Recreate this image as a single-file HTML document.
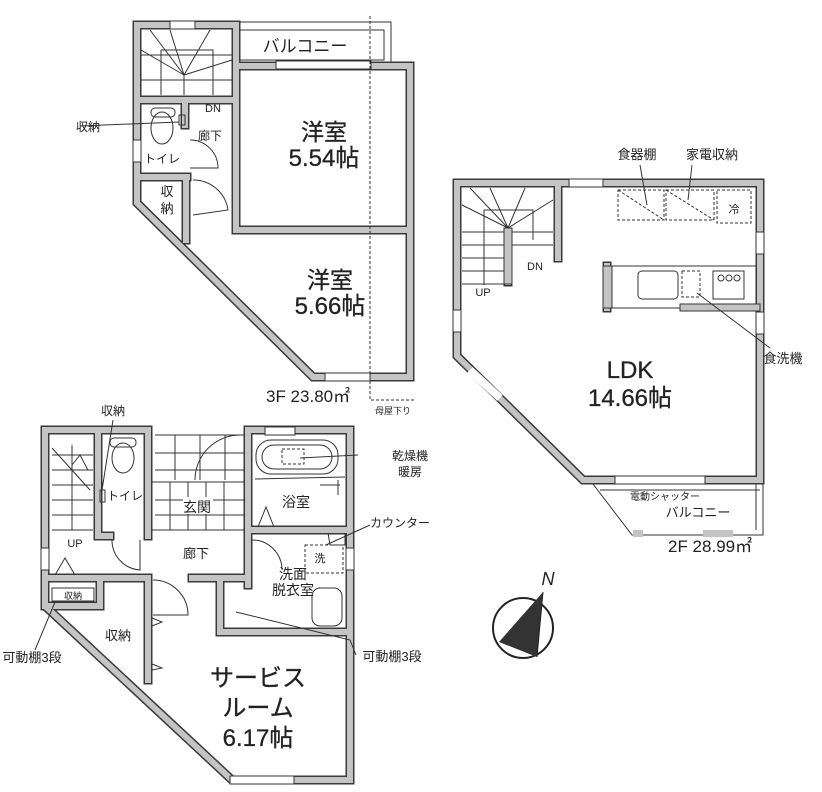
<!DOCTYPE html>
<html><head><meta charset="utf-8"><style>
html,body{margin:0;padding:0;background:#fff;}
svg{display:block;}
text{font-family:"Liberation Sans","Noto Sans CJK JP",sans-serif;fill:#222;}
.wo{fill:none;stroke:#3a3a3a;stroke-width:9;stroke-linecap:square;stroke-linejoin:miter;}
.wi{fill:none;stroke:#c4c4c4;stroke-width:6;stroke-linecap:square;stroke-linejoin:miter;}
.t{fill:none;stroke:#333;stroke-width:1;}
.d{fill:none;stroke:#333;stroke-width:1;stroke-dasharray:3 2;}
.win{fill:#fff;stroke:#333;stroke-width:1;}
.big{stroke:#222;stroke-width:0.3;}
</style></head><body>
<svg width="822" height="792" viewBox="0 0 822 792" xmlns="http://www.w3.org/2000/svg">
<defs>
<g id="w3">
<path d="M236,66 L410,66 L410,377 L313,377 L137,203 L137,25 L236,25 L236,228"/>
<path d="M137,100 L236,100"/><path d="M137,177 L187,177"/><path d="M185,100 L185,125"/>
<path d="M186,177 L186,240"/><path d="M236,230 L410,230"/>
</g>
<g id="w2">
<path d="M457,183 L760,183 L760,480 L583,480 L457,356 Z"/>
<path d="M558,183 L558,258"/><path d="M508,270 L508,282"/>
<path d="M607,266 L607,308"/>
</g>
<g id="w1">
<path d="M45,430 L148,430"/><path d="M248,430 L350,430 L350,780 L232,780 L45,606 L45,430"/>
<path d="M98,430 L98,536"/><path d="M148,430 L148,536"/><path d="M98,536 L110,536"/>
<path d="M248,430 L248,585"/><path d="M248,530 L350,530"/>
<path d="M45,578 L148,578 L148,680"/><path d="M192,578 L248,578"/>
<path d="M45,606 L100,606 L100,578"/>
<path d="M220,580 L220,632 L350,632"/>
</g>
</defs>
<use href="#w3" class="wo"/><use href="#w3" class="wi"/>
<use href="#w2" class="wo"/><use href="#w2" class="wi"/>
<use href="#w1" class="wo"/><use href="#w1" class="wi"/>
<rect x="611" y="266" width="145" height="42" fill="#fff" stroke="#333"/>
<rect x="603" y="266" width="9" height="42" fill="#c4c4c4" stroke="#333"/>
<rect x="680" y="304" width="80" height="7" fill="#c4c4c4" stroke="#333"/>
<rect x="276" y="61" width="95" height="8" class="win"/>
<rect x="325" y="373" width="45" height="8" class="win"/>
<rect x="170" y="21" width="25" height="8" class="win"/>
<rect x="133" y="140" width="8" height="22" class="win"/>
<rect x="569" y="179" width="34" height="8" class="win"/>
<rect x="756" y="232" width="8" height="22" class="win"/>
<rect x="756" y="312" width="8" height="22" class="win"/>
<rect x="453" y="310" width="8" height="22" class="win"/>
<rect x="615" y="476" width="90" height="8" class="win"/>
<rect x="41" y="548" width="8" height="22" class="win"/>
<rect x="346" y="548" width="8" height="22" class="win"/>
<rect x="265" y="427" width="30" height="8" class="win"/>
<rect x="230" y="776" width="64" height="8" class="win"/>
<line x1="233" y1="704" x2="260" y2="730" stroke="#fff" stroke-width="8"/>
<line x1="470" y1="370" x2="500" y2="398" stroke="#fff" stroke-width="8"/>
<path class="t" d="M240,22 L391,22 L391,62 M240,60 L384,60 L384,30 L240,30"/>
<path class="d" d="M370,16 L370,400 L415,400"/>
<text x="305" y="52" font-size="17" text-anchor="middle">バルコニー</text>
<path class="t" d="M141,55 L232,55 M141,80 L232,80 M161,50 L213,50 L213,95 M161,50 L161,95 M184,75 L184,95 M184,75 L150,30 M184,75 L170,30 M184,75 L210,30 M184,75 L232,60 M184,75 L141,50"/>
<text x="213" y="112" font-size="11" text-anchor="middle">DN</text>
<text x="210" y="140" font-size="12" text-anchor="middle">廊下</text>
<ellipse cx="162" cy="128" rx="11" ry="16" class="t"/><rect x="151" y="108" width="24" height="9" rx="4" class="t"/>
<rect x="179" y="115" width="6" height="10" class="t"/>
<text x="162" y="163" font-size="12" text-anchor="middle">トイレ</text>
<path class="t" d="M80,126 L179,122"/><text x="100" y="131" font-size="12" text-anchor="end">収納</text>
<text x="167" y="196" font-size="13" text-anchor="middle">収</text><text x="167" y="213" font-size="13" text-anchor="middle">納</text>
<path class="t" d="M190,140 A28,28 0 0 1 218,168 L190,168 M193,180 A35,35 0 0 1 228,210 L193,215"/>
<text x="324" y="140" font-size="23" text-anchor="middle" class="big">洋室</text>
<text x="324" y="166" font-size="24" text-anchor="middle" class="big">5.54帖</text>
<text x="330" y="288" font-size="23" text-anchor="middle" class="big">洋室</text>
<text x="330" y="314" font-size="24" text-anchor="middle" class="big">5.66帖</text>
<text x="266" y="402" font-size="17">3F 23.80㎡</text>
<text x="375" y="414" font-size="9">母屋下り</text>
<path class="t" d="M462,232 L553,232 M462,245 L553,245 M462,258 L508,258 M462,271 L508,271 M462,284 L508,284 M484,210 L484,285 M484,210 L533,210 L533,240 M508,228 L470,188 M508,228 L490,188 M508,228 L525,188 M508,228 L553,200 M508,228 L462,205"/>
<rect x="504" y="228" width="8" height="56" fill="#c4c4c4" stroke="#333"/>
<text x="535" y="270" font-size="11" text-anchor="middle">DN</text>
<text x="483" y="296" font-size="11" text-anchor="middle">UP</text>
<rect x="618" y="190" width="46" height="30" class="d"/><rect x="666" y="190" width="48" height="30" class="d"/><rect x="717" y="190" width="34" height="33" class="d"/>
<path class="d" d="M618,190 L664,220 M666,190 L714,220"/>
<text x="734" y="213" font-size="11" text-anchor="middle">冷</text>
<text x="637" y="159" font-size="13" text-anchor="middle">食器棚</text><text x="712" y="159" font-size="13" text-anchor="middle">家電収納</text>
<path class="t" d="M640,165 L647,205 M692,165 L688,200"/>
<rect x="638" y="271" width="40" height="28" rx="4" class="t"/>
<rect x="682" y="271" width="18" height="26" class="d"/>
<rect x="713" y="271" width="31" height="28" class="t"/>
<circle cx="721" cy="278" r="3" class="t"/><circle cx="729" cy="278" r="3" class="t"/><circle cx="737" cy="278" r="3" class="t"/>
<path class="t" d="M697,293 L770,348"/>
<text x="783" y="363" font-size="13" text-anchor="middle">食洗機</text>
<text x="630" y="378" font-size="24" text-anchor="middle" class="big">LDK</text>
<text x="630" y="406" font-size="24" text-anchor="middle" class="big">14.66帖</text>
<path class="t" d="M593,484 L632,535 L763,535 L763,484 M756,484 L756,530 M600,490 L760,490"/>
<rect x="633" y="530" width="10" height="7" fill="#c4c4c4"/><rect x="703" y="530" width="30" height="7" fill="#c4c4c4"/>
<text x="665" y="500" font-size="10" text-anchor="middle">電動シャッター</text>
<text x="698" y="517" font-size="13" text-anchor="middle">バルコニー</text>
<text x="668" y="552" font-size="17">2F 28.99㎡</text>
<circle cx="523" cy="628" r="30" fill="none" stroke="#222" stroke-width="2"/>
<path d="M543,592 L499,642 L537,657 Z" fill="#333"/><path d="M543,592 L537,657" stroke="#222"/>
<text x="548" y="585" font-size="18" font-style="italic" font-family="Liberation Serif" text-anchor="middle">N</text>
<path class="t" d="M52,455 L93,455 M52,470 L93,470 M52,485 L93,485 M52,500 L93,500 M52,515 L93,515 M52,530 L93,530 M72,445 L72,530 M52,448 L90,490 M72,465 L80,455 L88,470"/>
<text x="75" y="547" font-size="11" text-anchor="middle">UP</text>
<path class="t" d="M155,435 L245,435 M155,453 L245,453 M155,470 L245,470 M175,435 L175,480 M200,435 L200,480 M225,435 L225,480 M152,482 L245,482 M155,500 L245,500 M155,515 L245,515 M170,482 L170,530 M188,482 L188,530 M206,482 L206,530 M224,482 L224,530 M152,530 L245,530 M195,480 A45,45 0 0 1 240,435"/>
<rect x="183" y="497" width="30" height="17" fill="#fff"/>
<text x="197" y="512" font-size="14" text-anchor="middle">玄関</text>
<ellipse cx="123" cy="458" rx="11" ry="15" class="t"/><rect x="110" y="438" width="26" height="9" rx="4" class="t"/>
<rect x="100" y="490" width="5" height="12" class="t"/>
<text x="125" y="500" font-size="12" text-anchor="middle">トイレ</text>
<path class="t" d="M113,420 L102,490"/><text x="113" y="415" font-size="12" text-anchor="middle">収納</text>
<path class="t" d="M112,540 A30,30 0 0 0 140,570 L140,540"/>
<text x="196" y="558" font-size="13" text-anchor="middle">廊下</text>
<path class="t" d="M55,575 L65,558 L75,575"/>
<rect x="52" y="588" width="42" height="13" class="t"/><text x="73" y="599" font-size="9" text-anchor="middle">収納</text>
<path class="t" d="M55,602 L35,650"/><text x="32" y="662" font-size="13" text-anchor="middle">可動棚3段</text>
<text x="118" y="640" font-size="13" text-anchor="middle">収納</text>
<path class="t" d="M153,580 A35,35 0 0 1 188,615 L153,615 M152,618 L162,622 L152,626 M152,670 L162,668 L152,664"/>
<rect x="256" y="440" width="82" height="34" rx="15" class="t"/><rect x="262" y="445" width="70" height="24" rx="12" class="t"/>
<rect x="282" y="449" width="22" height="15" class="d"/>
<path class="t" d="M300,458 L358,455"/>
<text x="410" y="460" font-size="12" text-anchor="middle">乾燥機</text><text x="410" y="476" font-size="12" text-anchor="middle">暖房</text>
<text x="296" y="507" font-size="14" text-anchor="middle">浴室</text>
<path class="t" d="M258,527 L266,507 L274,527 M255,479 L345,477 M320,485 L340,485 M338,480 L338,495"/>
<path class="t" d="M328,533 L330,545 L345,545 L345,533"/>
<rect x="305" y="545" width="38" height="28" class="d"/>
<text x="320" y="562" font-size="11" text-anchor="middle">洗</text>
<path class="t" d="M326,545 L370,525"/><text x="400" y="527" font-size="12" text-anchor="middle">カウンター</text>
<path class="t" d="M252,540 A30,30 0 0 1 282,570"/>
<text x="293" y="579" font-size="14" text-anchor="middle">洗面</text>
<text x="293" y="595" font-size="14" text-anchor="middle">脱衣室</text>
<rect x="312" y="588" width="30" height="38" rx="8" class="t"/>
<path class="t" d="M236,612 L350,640 L356,655"/><text x="392" y="661" font-size="13" text-anchor="middle">可動棚3段</text>
<text x="258" y="686" font-size="24" text-anchor="middle" class="big">サービス</text>
<text x="258" y="716" font-size="24" text-anchor="middle" class="big">ルーム</text>
<text x="258" y="746" font-size="24" text-anchor="middle" class="big">6.17帖</text>
</svg>
</body></html>
